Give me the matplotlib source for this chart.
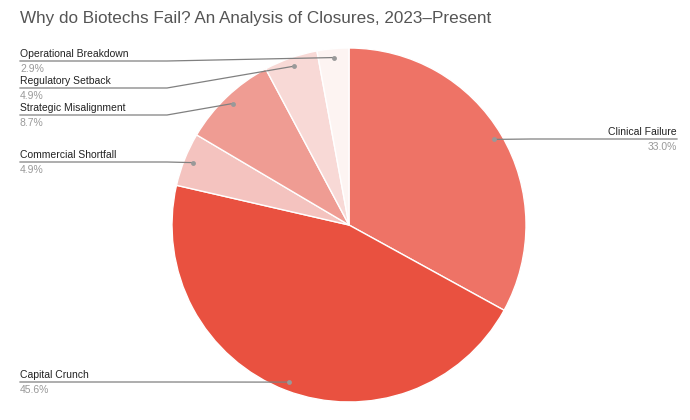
import numpy as np
import matplotlib.pyplot as plt

plt.rcParams['font.family'] = ['Liberation Sans', 'DejaVu Sans']

labels = ['Clinical Failure', 'Capital Crunch', 'Commercial Shortfall',
          'Strategic Misalignment', 'Regulatory Setback', 'Operational Breakdown']
values = [33.0, 45.6, 4.9, 8.7, 4.9, 2.9]
colors = ['#ee7366', '#e95140', '#f4c3bf', '#ef9c93', '#f8d9d6', '#fdf4f2']
title = 'Why do Biotechs Fail? An Analysis of Closures, 2023\u2013Present'

# label line y positions (pixels from top) and side
label_y = [139, 382, 162, 115, 88, 61]
label_side = ['right', 'left', 'left', 'left', 'left', 'left']

W, H = 690, 420
cx, cy, R = 349, 225, 177

def Y(y):
    return H - y

fig = plt.figure(figsize=(6.9, 4.2), dpi=100)
ax = fig.add_axes([0, 0, 1, 1])
wedges, _ = ax.pie(values, colors=colors, startangle=90, counterclock=False,
                   center=(cx, Y(cy)), radius=R,
                   wedgeprops=dict(edgecolor='white', linewidth=1))
ax.set_xlim(0, W)
ax.set_ylim(0, H)
ax.set_aspect('equal')
ax.axis('off')

for w, lab, v, ly, side in zip(wedges, labels, values, label_y, label_side):
    mid = np.deg2rad((w.theta1 + w.theta2) / 2)
    dx = cx + 0.95 * R * np.cos(mid)
    dy = Y(cy) + 0.95 * R * np.sin(mid)
    if side == 'left':
        ex = min(dx, cx - R - 5)
        ax.plot([20, ex, dx], [Y(ly), Y(ly), dy], color='#808080', lw=0.9)
        tx, ha = 20, 'left'
    else:
        ex = max(dx, cx + R + 5)
        ax.plot([677, ex, dx], [Y(ly), Y(ly), dy], color='#808080', lw=0.9)
        tx, ha = 677, 'right'
    ax.plot(dx, dy, 'o', ms=3.5, color='#999999', mec='none')
    ax.text(tx, Y(ly) + 2, lab, ha=ha, va='bottom', fontsize=7.5, color='#222222')
    ax.text(tx, Y(ly) - 3, '%.1f%%' % v, ha=ha, va='top', fontsize=7.5, color='#999999')

ax.text(20, Y(18), title, ha='left', va='center', fontsize=12.3, color='#555555')

fig.savefig('out.png', dpi=100)
